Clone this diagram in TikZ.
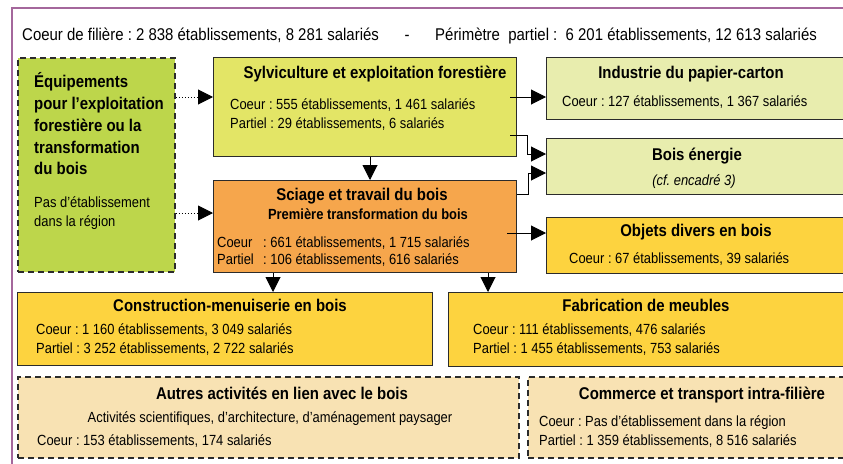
\documentclass[tikz,border=0pt]{standalone}
\usepackage{fontspec}
\setmainfont[FakeStretch=0.88]{Liberation Sans}
\usetikzlibrary{arrows.meta}
\frenchspacing
\definecolor{cframe}{HTML}{A4679C}
\definecolor{cline}{HTML}{2B2B2B}
\definecolor{cequip}{HTML}{BDD64B}
\definecolor{csyl}{HTML}{E3E566}
\definecolor{clight}{HTML}{E8EDAE}
\definecolor{csciage}{HTML}{F6A64C}
\definecolor{cyel}{HTML}{FDD33F}
\definecolor{cbeige}{HTML}{F8E2B3}
\tikzset{
  boxnode/.style={draw=cline, line width=1.2pt, inner sep=0pt, anchor=north west},
  dashbox/.style={boxnode, line width=1.8pt, dash pattern=on 6pt off 4pt},
  txt/.style={inner sep=0pt, anchor=base west, font=\fontsize{14.7}{17}\selectfont},
  ttl/.style={inner sep=0pt, anchor=base, font=\bfseries\fontsize{17}{20}\selectfont},
  eqt/.style={inner sep=0pt, anchor=base west, font=\bfseries\fontsize{17}{20}\selectfont},
  arr/.style={draw=black, line width=1pt, -{Triangle[length=15pt,width=15pt]}},
  dotarr/.style={arr, dotted},
}
\begin{document}
\begin{tikzpicture}[x=1pt,y=-1pt]
\useasboundingbox (0,0) rectangle (843,463);
% frame
\draw[cframe, line width=2pt] (12,470) -- (12,8) -- (860,8);
% top line
\node[txt, font=\fontsize{17}{20}\selectfont] (top1) at (22,40) {Coeur de filière : 2 838 établissements, 8 281 salariés};
\node[txt, anchor=base, font=\fontsize{17}{20}\selectfont] (top2) at (407,40) {-};
\node[txt, font=\fontsize{17}{20}\selectfont] (top3) at (435,40) {Périmètre~ partiel :~ 6 201 établissements, 12 613 salariés};
% boxes
\node[dashbox, fill=cequip, minimum width=157pt, minimum height=214pt] (equip) at (17,57) {};
\node[boxnode, fill=csyl, minimum width=303pt, minimum height=99pt] (syl) at (213,57) {};
\node[boxnode, fill=clight, minimum width=304pt, minimum height=62pt] (indus) at (546,57) {};
\node[boxnode, fill=clight, minimum width=304pt, minimum height=56pt] (energie) at (546,138) {};
\node[boxnode, fill=cyel, minimum width=304pt, minimum height=56pt] (objets) at (546,217) {};
\node[boxnode, fill=csciage, minimum width=303pt, minimum height=92pt] (sciage) at (213,180) {};
\node[boxnode, fill=cyel, minimum width=415pt, minimum height=73pt] (constr) at (17,292) {};
\node[boxnode, fill=cyel, minimum width=402pt, minimum height=74pt] (meubles) at (448,292) {};
\node[dashbox, fill=cbeige, minimum width=501pt, minimum height=81pt] (autres) at (17,376) {};
\node[dashbox, fill=cbeige, minimum width=323pt, minimum height=81pt] (commerce) at (527,376) {};
% equipements text
\node[eqt] (e1) at (34,87.1) {Équipements};
\node[eqt] (e2) at (34,109.1) {pour l’exploitation};
\node[eqt] (e3) at (34,131.1) {forestière ou la};
\node[eqt] (e4) at (34,153.1) {transformation};
\node[eqt] (e5) at (34,174.1) {du bois};
\node[txt] (e6) at (34,207.3) {Pas d’établissement};
\node[txt] (e7) at (34,226.3) {dans la région};
% sylviculture
\node[ttl] (s0) at (375,78.1) {Sylviculture et exploitation forestière};
\node[txt] (s1t) at (230,109.3) {Coeur : 555 établissements, 1 461 salariés};
\node[txt] (s2t) at (230,128.3) {Partiel : 29 établissements, 6 salariés};
% industrie
\node[ttl] (i0) at (691,78.1) {Industrie du papier-carton};
\node[txt] (i1) at (562,106.3) {Coeur : 127 établissements, 1 367 salariés};
% bois energie
\node[ttl] (b0) at (697,160.1) {Bois énergie};
\node[txt, anchor=base, font=\itshape\fontsize{14.7}{17}\selectfont] (b1) at (694,185.3) {(cf. encadré 3)};
% objets
\node[ttl] (o0) at (696,236.1) {Objets divers en bois};
\node[txt] (o1) at (569,263.3) {Coeur : 67 établissements, 39 salariés};
% sciage
\node[ttl] (c0) at (362,200.1) {Sciage et travail du bois};
\node[ttl, font=\bfseries\fontsize{14.7}{17}\selectfont] (c1) at (368,219.3) {Première transformation du bois};
\node[txt] (c2) at (217,247.3) {\makebox[46pt][l]{Coeur}: 661 établissements, 1 715 salariés};
\node[txt] (c3) at (217,264.3) {\makebox[46pt][l]{Partiel}: 106 établissements, 616 salariés};
% construction
\node[ttl] (m0) at (230,311.1) {Construction-menuiserie en bois};
\node[txt] (m1) at (36,334.3) {Coeur : 1 160 établissements, 3 049 salariés};
\node[txt] (m2) at (36,353.3) {Partiel : 3 252 établissements, 2 722 salariés};
% meubles
\node[ttl] (f0) at (646,311.1) {Fabrication de meubles};
\node[txt] (f1) at (473,334.3) {Coeur : 111 établissements, 476 salariés};
\node[txt] (f2) at (473,353.3) {Partiel : 1 455 établissements, 753 salariés};
% autres
\node[ttl] (a0) at (282,399.1) {Autres activités en lien avec le bois};
\node[txt, anchor=base] (a1) at (270,422.3) {Activités scientifiques, d’architecture, d’aménagement paysager};
\node[txt] (a2) at (37,445.3) {Coeur : 153 établissements, 174 salariés};
% commerce
\node[ttl] (k0) at (702,399.1) {Commerce et transport intra-filière};
\node[txt] (k1) at (539,426.3) {Coeur : Pas d’établissement dans la région};
\node[txt] (k2) at (539,445.3) {Partiel : 1 359 établissements, 8 516 salariés};
% connectors
\coordinate (p1) at (510,97);
\coordinate (p2) at (510,135);
\coordinate (p3) at (507,233);
\draw[dotarr] (equip.east |- 0,97) -- (syl.west |- 0,97);
\draw[dotarr] (equip.east |- 0,213) -- (sciage.west |- 0,213);
\draw[arr] (syl.south -| 370,0) -- (sciage.north -| 370,0);
\draw[arr] (p1) -- (indus.west |- p1);
\draw[arr] (p2) -- ++(17,0) |- (energie.west |- 0,154);
\draw[arr] (sciage.east |- 0,194) -- ++(11,0) |- (energie.west |- 0,173);
\draw[arr] (p3) -- (objets.west |- p3);
\draw[arr] (sciage.south -| 273,0) -- (constr.north -| 273,0);
\draw[arr] (sciage.south -| 488,0) -- (meubles.north -| 488,0);
\end{tikzpicture}
\end{document}
